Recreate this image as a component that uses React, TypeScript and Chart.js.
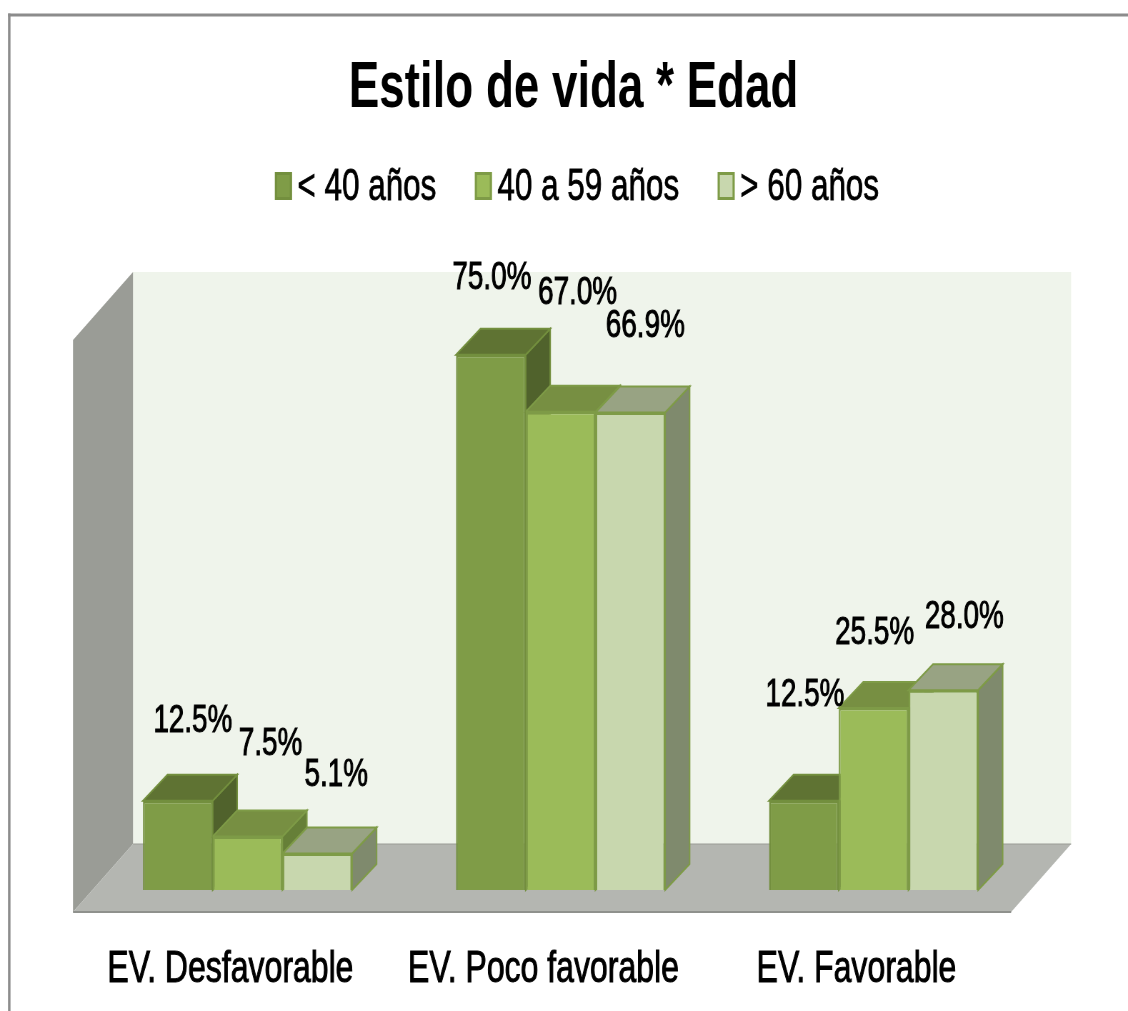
import React, { useEffect, useRef } from "react";
import { Chart, registerables } from "chart.js";

Chart.register(...registerables);

const titleText = "Estilo de vida * Edad";
const categories = ["EV. Desfavorable", "EV. Poco favorable", "EV. Favorable"];
const seriesNames = ["< 40 años", "40 a 59 años", "> 60 años"];
const under40 = [12.5, 75.0, 12.5];
const from40to59 = [7.5, 67.0, 25.5];
const over60 = [5.1, 66.9, 28.0];

const DISPLAY_W = 1128;
const H = 1011;
const KX = 1.4; // the picture is squeezed horizontally
const W = Math.round(DISPLAY_W * KX);
const FONT = '"Liberation Sans", Arial, sans-serif';

const fronts = ["#7F9C47", "#9BBB59", "#C8D7AE"];
const borders = ["#738F3E", "#7E9B47", "#7E9B47"];
const tops = ["#5F7333", "#778F42", "#98A383"];
const sides = ["#50622C", "#667F38", "#7F8A6D"];

// label offset from the bar's top centre, in displayed pixels
const labelDx = [[15, 23, 19], [1, 17, 15], [1, 1, 21]];
const labelDy = [[80, 92, 78], [76, 119, 86], [106, 75, 73]];

const depthPlugin = {
  id: "depth3d",
  beforeDraw(chart: any) {
    const { ctx, chartArea, scales } = chart;
    const poly = (pts: number[][], fill: string) => {
      ctx.beginPath();
      pts.forEach((p, i) => (i ? ctx.lineTo(p[0], p[1]) : ctx.moveTo(p[0], p[1])));
      ctx.closePath();
      ctx.fillStyle = fill;
      ctx.fill();
    };
    ctx.save();
    // outer frame
    ctx.fillStyle = "#8C8C8C";
    ctx.fillRect(8 * KX, 13.5, W, 3);
    ctx.fillRect(8 * KX, 13.5, 2.5 * KX, H);

    const bottom = scales.y.getPixelForValue(0);
    const top = scales.y.getPixelForValue(80);
    const fl = chartArea.left - 18 * KX;
    const fr = chartArea.right - 19 * KX;
    const fy = bottom + 22;
    const ddx = 60 * KX;
    const ddy = 68;
    poly([[fl + ddx, top - 47], [fr + ddx, top - 47], [fr + ddx, fy - ddy], [fl + ddx, fy - ddy]], "#EFF4EB");
    poly([[fl, top + 21], [fl + ddx, top - 47], [fl + ddx, fy - ddy], [fl, fy]], "#9A9C96");
    poly([[fl, fy], [fr, fy], [fr + ddx, fy - ddy], [fl + ddx, fy - ddy]], "#B4B6B1");
    ctx.strokeStyle = "#8F918D";
    ctx.lineWidth = 2;
    ctx.beginPath();
    ctx.moveTo(fl, fy);
    ctx.lineTo(fr, fy);
    ctx.stroke();
    ctx.lineWidth = 1;
    ctx.strokeStyle = "#9A9C96";
    ctx.beginPath();
    ctx.moveTo(fl + ddx, fy - ddy);
    ctx.lineTo(fr + ddx, fy - ddy);
    ctx.stroke();
    ctx.restore();

    // legend, laid out from the series names
    ctx.save();
    ctx.font = `44px ${FONT}`;
    ctx.textBaseline = "middle";
    ctx.textAlign = "left";
    const boxW = 17 * KX;
    const boxH = 28;
    const gap = 5.5 * KX;
    const itemGap = 38.5 * KX;
    const widths = seriesNames.map((n) => ctx.measureText(n).width);
    const total = widths.reduce((a, b) => a + b + boxW + gap, 0) + itemGap * 2;
    let x = (W - total) / 2 + 13 * KX;
    seriesNames.forEach((n, i) => {
      ctx.fillStyle = fronts[i];
      ctx.strokeStyle = borders[i];
      ctx.lineWidth = 3;
      ctx.fillRect(x, 186 - boxH / 2, boxW, boxH);
      ctx.strokeRect(x + 1.5, 186 - boxH / 2 + 1.5, boxW - 3, boxH - 3);
      ctx.fillStyle = "#000";
      ctx.strokeStyle = "#000";
      ctx.lineWidth = 0.8;
      ctx.fillText(n, x + boxW + gap, 188);
      ctx.strokeText(n, x + boxW + gap, 188);
      x += boxW + gap + widths[i] + itemGap;
    });
    ctx.restore();
  },
  beforeDatasetsDraw(chart: any) {
    const { ctx } = chart;
    const dx = 24.5 * KX;
    const dy = 26;
    const face = (pts: number[][], fill: string, stroke: string) => {
      ctx.beginPath();
      pts.forEach((p, i) => (i ? ctx.lineTo(p[0], p[1]) : ctx.moveTo(p[0], p[1])));
      ctx.closePath();
      ctx.fillStyle = fill;
      ctx.strokeStyle = stroke;
      ctx.lineWidth = 2;
      ctx.fill();
      ctx.stroke();
    };
    ctx.save();
    for (let c = 0; c < categories.length; c++) {
      for (let d = 0; d < seriesNames.length; d++) {
        const bar = chart.getDatasetMeta(d).data[c];
        const l = bar.x - bar.width / 2;
        const r = bar.x + bar.width / 2;
        face([[r, bar.y], [r + dx, bar.y - dy], [r + dx, bar.base - dy], [r, bar.base]], sides[d], borders[d]);
        face([[l, bar.y], [l + dx, bar.y - dy], [r + dx, bar.y - dy], [r, bar.y]], tops[d], borders[d]);
      }
    }
    ctx.restore();
  },
  afterDatasetsDraw(chart: any) {
    const { ctx } = chart;
    ctx.save();
    ctx.font = `39px ${FONT}`;
    ctx.fillStyle = "#000";
    ctx.strokeStyle = "#000";
    ctx.lineWidth = 1;
    ctx.textAlign = "center";
    ctx.textBaseline = "middle";
    chart.data.datasets.forEach((ds: any, d: number) => {
      chart.getDatasetMeta(d).data.forEach((bar: any, c: number) => {
        const t = `${ds.data[c].toFixed(1)}%`;
        const x = bar.x + labelDx[c][d] * KX;
        const y = bar.y - labelDy[c][d];
        ctx.fillText(t, x, y);
        ctx.strokeText(t, x, y);
      });
    });
    ctx.restore();
  },
};

export default function App() {
  const ref = useRef<HTMLCanvasElement>(null);
  useEffect(() => {
    const canvas = ref.current!;
    const chart = new Chart(canvas, {
      type: "bar",
      data: {
        labels: categories,
        datasets: [under40, from40to59, over60].map((data, i) => ({
          label: seriesNames[i],
          data,
          backgroundColor: fronts[i],
          borderColor: borders[i],
          borderWidth: 2.5,
          categoryPercentage: 0.668,
          barPercentage: 1,
        })),
      },
      options: {
        responsive: false,
        animation: false,
        devicePixelRatio: 1,
        layout: { padding: { left: 127.4, right: 100.6, top: 0, bottom: 0 } },
        plugins: {
          legend: { display: false },
          tooltip: { enabled: false },
          title: {
            display: true,
            text: titleText,
            color: "#000",
            font: { family: FONT, size: 64, weight: "bold", lineHeight: 1 },
            padding: { top: 57, bottom: 198 },
          },
        },
        scales: {
          x: {
            grid: { display: false },
            border: { display: false },
            ticks: {
              color: "#000",
              font: { family: FONT, size: 44.8 },
              padding: 45,
              maxRotation: 0,
              minRotation: 0,
              autoSkip: false,
              labelOffset: -24,
              textStrokeColor: "#000",
              textStrokeWidth: 1,
            },
            afterFit: (s: any) => {
              s.height = 121;
            },
          },
          y: {
            position: "right",
            min: 0,
            max: 80,
            grid: { display: false },
            border: { display: false },
            ticks: { display: false },
            afterFit: (s: any) => {
              s.width = 36.4;
            },
          },
        },
      },
      plugins: [depthPlugin],
    } as any);
    canvas.style.width = `${DISPLAY_W}px`;
    canvas.style.height = `${H}px`;
    return () => chart.destroy();
  }, []);
  return (
    <div style={{ position: "absolute", left: 0, top: 0, width: DISPLAY_W, height: H, overflow: "hidden" }}>
      <canvas ref={ref} width={W} height={H} style={{ display: "block", filter: "blur(0.5px)" }} />
    </div>
  );
}
